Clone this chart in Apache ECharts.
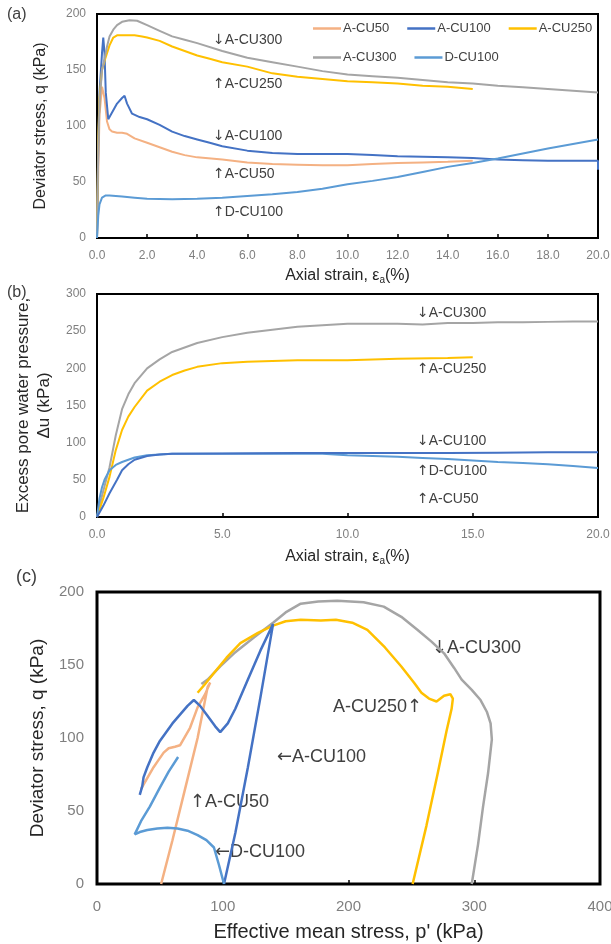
<!DOCTYPE html>
<html>
<head>
<meta charset="utf-8">
<script src="https://cdn.jsdelivr.net/npm/echarts@6/dist/echarts.min.js"></script>
<style>
  html, body { margin: 0; padding: 0; background: #fff; }
  #chart { width: 611px; height: 944px; }
</style>
</head>
<body>
<div id="chart"></div>
<script>
// (a) deviator stress q (kPa) vs axial strain (%)
const a_CU50 = [[0,0],[0.05,60],[0.1,110],[0.2,135],[0.3,125],[0.4,104],[0.5,97],[0.6,95],[0.8,94],[1.0,94],[1.2,93],[1.5,89],[2,85],[2.5,81],[3,77],[3.5,74],[4,72],[5,70],[6,67.5],[7,66],[8,65.5],[9,65],[10,65],[11,66],[12,67],[13,67.5],[14,68],[15,69]];
const a_CU100 = [[0,0],[0.05,80],[0.1,130],[0.2,165],[0.25,179],[0.3,165],[0.35,130],[0.45,106],[0.6,112],[0.8,120],[1.0,125],[1.1,127],[1.2,120],[1.4,111],[1.7,108],[2,106],[2.5,101],[3,95],[3.5,91],[4,88],[4.5,85],[5,82],[6,78],[7,76],[8,75],[9,75],[10,75],[11,74],[12,73],[13,72.5],[14,72],[15,71.5],[16,70],[17,69.5],[18,69],[19,69],[20,69],[20,61]];
const a_CU250 = [[0,0],[0.05,90],[0.1,125],[0.2,150],[0.3,158],[0.4,165],[0.5,172],[0.65,179],[0.8,181],[1.0,181],[1.5,181],[1.8,180],[2,179],[2.5,176],[3,171],[3.5,167],[4,163],[4.5,160],[5,157],[6,153],[7,147],[8,144],[9,142],[10,140],[11,139],[12,138],[13,136],[14,135],[15,133]];
const a_CU300 = [[0,0],[0.05,80],[0.1,120],[0.2,150],[0.3,160],[0.4,171],[0.5,180],[0.65,186],[0.8,190],[1.0,193],[1.3,194.5],[1.6,194],[2,190],[2.5,185],[3,180],[3.5,177],[4,174],[5,167],[6,161],[7,157],[8,153],[9,149],[10,146],[11,144.5],[12,143],[13,141],[14,139],[15,138],[16,136],[17,134.5],[18,133],[19,131.5],[20,130]];
const a_DCU100 = [[0,0],[0.05,20],[0.1,30],[0.2,36],[0.35,38],[0.5,38],[1,37],[1.5,36],[2,35],[3,34.5],[4,35],[5,36],[6,37.5],[7,39],[8,41],[9,44],[10,48],[11,51],[12,54.5],[13,59],[14,63.5],[15,67],[16,71],[17,75.5],[18,80],[19,84],[20,88]];

// (b) excess pore water pressure (kPa) vs axial strain (%)
const b_CU300 = [[0,0],[0.1,15],[0.25,35],[0.5,67],[0.75,110],[1,145],[1.25,165],[1.5,180],[2,200],[2.5,212],[3,222],[4,234],[5,242],[6,248],[7,252],[8,256],[9,258],[10,260],[11,260],[12,260],[13,259],[14,261],[15,261],[16,262],[17,262],[18,262.5],[19,263],[20,263]];
const b_CU250 = [[0,0],[0.25,25],[0.5,54],[0.75,90],[1,117],[1.25,135],[1.5,148],[2,170],[2.5,182],[3,191],[3.5,197],[4,202],[5,207],[6,209],[7,210],[8,211],[10,211],[12,213],[14,214],[15,215]];
const b_CU100 = [[0,0],[0.25,15],[0.5,32],[0.8,50],[1,63],[1.25,71],[1.5,77],[2,82],[2.5,84],[3,85],[5,85.5],[8,86],[10,86],[12,86],[14,86],[16,86.5],[18,87],[20,87]];
const b_DCU100 = [[0,0],[0.1,25],[0.2,40],[0.3,50],[0.5,63],[0.75,70],[1,74],[1.5,80],[2,83],[3,85],[5,85],[8,85.5],[9,85],[10,83],[11,82],[12,81],[13,79.5],[14,78],[15,76],[16,74],[17,72.5],[18,71],[19,68.5],[20,66]];

// (c) deviator stress q vs effective mean stress p' (kPa)
const c_CU50 = [[51,0],[60,30],[70,65],[80,100],[88,135],[90,138],[86,130],[80,121],[74,107],[70,101],[66,95],[62,94],[57,93],[53,90],[49,85],[45,80],[41,74],[37,68],[35,65]];
const c_CU100 = [[101,0],[110,35],[120,80],[130,128],[140,178],[130,160],[120,140],[110,120],[104,110],[98,104],[94,108],[88,115],[82,122],[77,126],[72,122],[66,116],[60,110],[55,104],[50,98],[45,90],[40,80],[37,73],[36,67],[34,61]];
const c_CU250 = [[251,0],[262,40],[271,76],[278,105],[282,120],[283,127],[281,130],[276,129],[270,125],[264,127],[258,131],[252,138],[242,149],[229,162],[215,174],[203,179],[190,181],[178,180.5],[162,181],[150,180],[140,177],[128,172],[114,165],[103,155],[93,144.5],[86,137],[80,131]];
const c_CU300 = [[298,0],[303,27],[307,53],[311,76],[314,99],[313,110],[310,118],[305,126],[298,133],[290,140],[284,148],[276,158],[266,166],[255,174],[242,183],[228,190],[212,193],[191,194],[176,193.5],[162,192],[150,186],[140,179],[125,169],[109,158],[98,149],[88,140],[83,137]];
const c_DCU100 = [[101,0],[97,13],[93,25],[87,30],[80,33.5],[72,36.5],[64,38],[56,38.5],[48,38],[40,37],[34,35.6],[30,34],[29,35],[35,43],[42,53],[50,66],[57,77],[64.5,87]];

const colors = {
    'A-CU50': '#F4B183',
    'A-CU100': '#4472C4',
    'A-CU250': '#FFC000',
    'A-CU300': '#A5A5A5',
    'D-CU100': '#5B9BD5'
};

const FONT = 'Liberation Sans';
const tickGray = '#7f7f7f';
const textGray = '#404040';

function line(name, data, idx) {
    return {
        name: name,
        type: 'line',
        xAxisIndex: idx,
        yAxisIndex: idx,
        data: data,
        symbol: 'none',
        smooth: false,
        lineStyle: { color: colors[name], width: idx === 2 ? 2.5 : 2 },
        itemStyle: { color: colors[name] },
        animation: false
    };
}

function xAxis(idx, max, interval, name, nameGap, fontSize, decimals) {
    return {
        gridIndex: idx, type: 'value', min: 0, max: max, interval: interval,
        name: name, nameLocation: 'middle', nameGap: nameGap,
        nameTextStyle: {
            fontFamily: FONT, fontSize: fontSize, color: '#262626',
            rich: { s: { fontFamily: FONT, fontSize: 10, color: '#262626', padding: [8, 0, 0, 0] } }
        },
        axisLine: { show: true, onZero: false, lineStyle: { color: '#000', width: 2 } },
        axisTick: { show: true, inside: true, length: 4, lineStyle: { color: '#000', width: 1.5 } },
        axisLabel: {
            fontFamily: FONT, fontSize: idx === 2 ? 15 : 12, color: tickGray,
            margin: idx === 2 ? 15 : 12,
            formatter: v => decimals ? v.toFixed(1) : String(v)
        },
        splitLine: { show: false }
    };
}

function yAxis(idx, max, name, nameGap, fontSize) {
    return {
        gridIndex: idx, type: 'value', min: 0, max: max, interval: 50,
        name: name, nameLocation: 'middle', nameGap: nameGap,
        nameTextStyle: { fontFamily: FONT, fontSize: fontSize, color: '#262626', lineHeight: 21, align: 'center' },
        axisLine: { show: true, lineStyle: { color: '#000', width: 2 } },
        axisTick: { show: false },
        axisLabel: { fontFamily: FONT, fontSize: idx === 2 ? 15 : 12, color: tickGray, margin: idx === 2 ? 13 : 11 },
        splitLine: { show: false }
    };
}

// annotation text; arrows drawn with DejaVu Sans so they keep full size
function note(text, x, y, size) {
    const rt = text.replace(/([↑↓←])/g, '{ar|$1}');
    return {
        type: 'text', x: x, y: y, silent: true,
        style: {
            text: rt, fontFamily: FONT, fontSize: size, fill: textGray, verticalAlign: 'middle',
            rich: { ar: { fontFamily: 'DejaVu Sans', fontSize: size, fill: textGray, color: textGray } }
        }
    };
}

function legend(names, top) {
    return {
        data: names.map(n => ({ name: n, icon: 'rect' })),
        left: 313, top: top, padding: 0, itemWidth: 28, itemHeight: 2.5, itemGap: 18,
        textStyle: { fontFamily: FONT, fontSize: 13, color: textGray, padding: [0, 0, 0, -3] },
        selectedMode: false
    };
}

const chart = echarts.init(document.getElementById('chart'), null, { renderer: 'canvas' });

const option = {
    backgroundColor: '#fff',
    animation: false,
    grid: [
        { left: 97, top: 14, width: 501, height: 224, show: true, borderColor: '#000', borderWidth: 2, outerBoundsMode: 'none' },
        { left: 97, top: 294, width: 501, height: 223, show: true, borderColor: '#000', borderWidth: 2, outerBoundsMode: 'none' },
        { left: 97, top: 592, width: 503, height: 292, show: true, borderColor: '#000', borderWidth: 3, outerBoundsMode: 'none' }
    ],
    xAxis: [
        xAxis(0, 20, 2, 'Axial strain, ε{s|a}(%)', 29, 16, true),
        xAxis(1, 20, 5, 'Axial strain, ε{s|a}(%)', 31, 16, true),
        xAxis(2, 400, 100, "Effective mean stress, p' (kPa)", 38, 20, false)
    ],
    yAxis: [
        yAxis(0, 200, 'Deviator stress, q (kPa)', 46, 16),
        yAxis(1, 300, 'Excess pore water pressure,\nΔu (kPa)', 34, 17),
        yAxis(2, 200, 'Deviator stress, q (kPa)', 41, 19)
    ],
    legend: [
        legend(['A-CU50', 'A-CU100', 'A-CU250'], 22),
        legend(['A-CU300', 'D-CU100'], 51)
    ],
    series: [
        line('A-CU50', a_CU50, 0),
        line('A-CU100', a_CU100, 0),
        line('A-CU250', a_CU250, 0),
        line('A-CU300', a_CU300, 0),
        line('D-CU100', a_DCU100, 0),

        line('A-CU300', b_CU300, 1),
        line('A-CU250', b_CU250, 1),
        line('D-CU100', b_DCU100, 1),
        line('A-CU100', b_CU100, 1),

        line('A-CU50', c_CU50, 2),
        line('A-CU300', c_CU300, 2),
        line('A-CU250', c_CU250, 2),
        line('A-CU100', c_CU100, 2),
        line('D-CU100', c_DCU100, 2)
    ],
    graphic: [
        note('(a)', 7, 15, 16),
        note('(b)', 7, 293, 16),
        note('(c)', 16, 577, 18),

        note('↓A-CU300', 213, 40, 14),
        note('↑A-CU250', 213, 84, 14),
        note('↓A-CU100', 213, 136, 14),
        note('↑A-CU50', 213, 174, 14),
        note('↑D-CU100', 213, 212, 14),

        note('↓A-CU300', 417, 313, 14),
        note('↑A-CU250', 417, 369, 14),
        note('↓A-CU100', 417, 441, 14),
        note('↑D-CU100', 417, 471, 14),
        note('↑A-CU50', 417, 499, 14),

        note('↓A-CU300', 432, 648, 18),
        note('A-CU250↑', 333, 707, 18),
        note('←A-CU100', 277, 757, 18),
        note('↑A-CU50', 190, 802, 18),
        note('←D-CU100', 215, 852, 18)
    ]
};

chart.setOption(option);
</script>
</body>
</html>
